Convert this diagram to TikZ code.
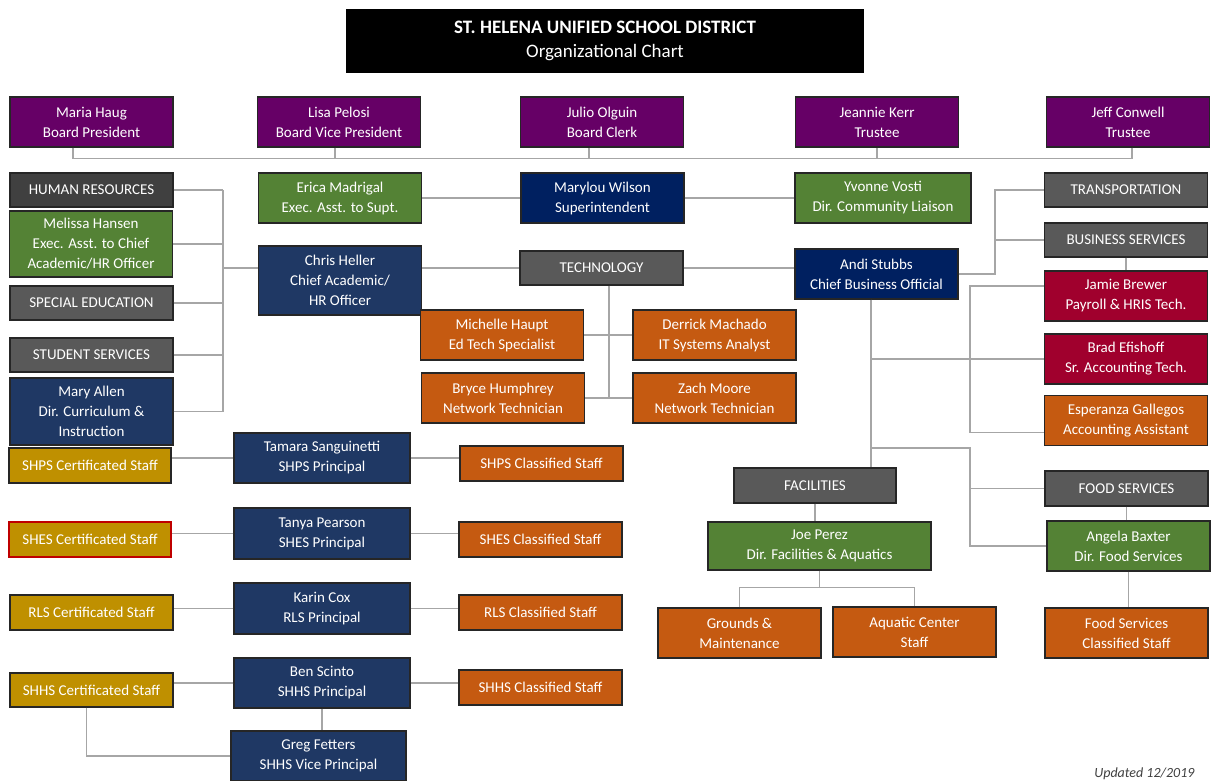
\documentclass[tikz,border=0pt]{standalone}
\usepackage{fontspec}
\setmainfont{Carlito}
\usetikzlibrary{calc}
\definecolor{BoxLine}   {RGB}{38,38,38}
\definecolor{ConnLine}  {RGB}{166,166,166}
\definecolor{BoardFill} {RGB}{102,0,102}
\definecolor{DeptFill}  {RGB}{89,89,89}
\definecolor{HrFill}    {RGB}{64,64,64}
\definecolor{GreenFill} {RGB}{84,130,53}
\definecolor{NavyFill}  {RGB}{0,32,96}
\definecolor{ExecFill}  {RGB}{31,56,100}
\definecolor{OrangeFill}{RGB}{197,90,17}
\definecolor{RedFill}   {RGB}{160,0,45}
\definecolor{GoldFill}  {RGB}{191,144,0}
\definecolor{NoteText}  {RGB}{64,64,64}
\newcommand{\boxfont}{\fontsize{15}{20}\selectfont}
\tikzset{
  nd_base/.style={
    rectangle, draw=BoxLine, line width=1.4pt, text=white,
    align=center, inner sep=0pt, font=\boxfont,
    minimum width=163, minimum height=50},
  nd_board/.style={nd_base, fill=BoardFill},
  nd_dept/.style={nd_base, fill=DeptFill, minimum height=34},
  nd_green/.style={nd_base, fill=GreenFill},
  nd_navy/.style={nd_base, fill=NavyFill},
  nd_exec/.style={nd_base, fill=ExecFill},
  nd_orange/.style={nd_base, fill=OrangeFill},
  nd_red/.style={nd_base, fill=RedFill},
  nd_gold/.style={nd_base, fill=GoldFill, minimum height=35},
  nd_staff/.style={nd_base, fill=OrangeFill, minimum height=35},
  conn/.style={draw=ConnLine, line width=1.2pt},
}

\begin{document}
\begin{tikzpicture}[x=1pt,y=-1pt]

\useasboundingbox[fill=white] (0,0) rectangle (1212,781);

\node[fill=black, text=white, align=center, minimum width=518, minimum height=64,
  font=\fontsize{19}{24}\selectfont] at (605,41) (TT)
  {\textbf{ST. HELENA UNIFIED SCHOOL DISTRICT}\\Organizational Chart};

%% Board
\node[nd_board] at (91.5,122) (MH){Maria Haug\\Board President};
\node[nd_board] at (339,122)  (LP){Lisa Pelosi\\Board Vice President};
\node[nd_board] at (602,122)  (JO){Julio Olguin\\Board Clerk};
\node[nd_board] at (877,122)  (JK){Jeannie Kerr\\Trustee};
\node[nd_board] at (1128,122) (JC){Jeff Conwell\\Trustee};
\coordinate (bbL) at (73,158.5);
\coordinate (bbR) at (1132,158.5);

%% Left column
\node[nd_dept, fill=HrFill] at (91.5,190) (HR){HUMAN RESOURCES};
\node[nd_green, minimum height=66] at (91,244) (MHa){Melissa Hansen\\Exec. Asst. to Chief\\Academic/HR Officer};
\node[nd_dept] at (91.5,303) (SE){SPECIAL EDUCATION};
\node[nd_dept] at (91.5,355) (SS){STUDENT SERVICES};
\node[nd_exec, minimum height=67] at (91.5,411.5) (MA){Mary Allen\\Dir. Curriculum \&\\Instruction};
\coordinate (lbus) at (223,0);

%% Centre
\node[nd_green] at (340,198)  (EM){Erica Madrigal\\Exec. Asst. to Supt.};
\node[nd_exec, minimum height=69] at (340,280.5) (CH){Chris Heller\\Chief Academic/\\HR Officer};
\node[nd_navy] at (602.5,198) (MW){Marylou Wilson\\Superintendent};
\node[nd_dept] at (601.5,268) (TE){TECHNOLOGY};
\node[nd_orange] at (502,335)   (MHp){Michelle Haupt\\Ed Tech Specialist};
\node[nd_orange] at (714.5,335) (DM){Derrick Machado\\IT Systems Analyst};
\node[nd_orange] at (503,398)   (BH){Bryce Humphrey\\Network Technician};
\node[nd_orange] at (714.5,398) (ZM){Zach Moore\\Network Technician};
\coordinate (tbus) at (609,0);

%% Right side
\node[nd_green, minimum width=176] at (883,198) (YV){Yvonne Vosti\\Dir. Community Liaison};
\node[nd_navy] at (876.5,274) (AS){Andi Stubbs\\Chief Business Official};
\node[nd_dept] at (1126,190) (TR){TRANSPORTATION};
\node[nd_dept] at (1126,240) (BS){BUSINESS SERVICES};
\node[nd_red]  at (1126,296) (JB){Jamie Brewer\\Payroll \& HRIS Tech.};
\node[nd_red]  at (1126,359) (BE){Brad Efishoff\\Sr. Accounting Tech.};
\node[nd_orange] at (1126,420.5) (EG){Esperanza Gallegos\\Accounting Assistant};
\coordinate (rbus) at (995,0);
\coordinate (fbus) at (970,0);
\coordinate (abus) at (871,0);

%% Facilities and food
\node[nd_dept, minimum width=162, minimum height=35] at (815,485.5) (FA){FACILITIES};
\node[nd_green, minimum width=223, minimum height=48] at (819.5,546) (JP){Joe Perez\\Dir. Facilities \& Aquatics};
\node[nd_orange] at (739.5,633) (GM){Grounds \&\\Maintenance};
\node[nd_orange] at (914.5,632) (AC){Aquatic Center\\Staff};
\node[nd_dept, minimum height=35] at (1126.5,488.5) (FS){FOOD SERVICES};
\node[nd_green] at (1128.5,546) (AB){Angela Baxter\\Dir. Food Services};
\node[nd_orange] at (1126.5,633) (FC){Food Services\\Classified Staff};

%% Schools
\node[nd_gold, minimum width=162] at (90,465.5) (SPc){SHPS Certificated Staff};
\node[nd_exec, minimum width=176] at (322,458)   (SPp){Tamara Sanguinetti\\SHPS Principal};
\node[nd_staff] at (541.5,463.5) (SPk){SHPS Classified Staff};
\node[nd_gold, minimum width=162, draw=red!75!black] at (90,539.5) (SEc){SHES Certificated Staff};
\node[nd_exec, minimum width=176, minimum height=51] at (322,533.5) (SEp){Tanya Pearson\\SHES Principal};
\node[nd_staff] at (540.5,539.5) (SEk){SHES Classified Staff};
\node[nd_gold] at (91.5,612.5) (RLc){RLS Certificated Staff};
\node[nd_exec, minimum width=176, minimum height=51] at (322,608.5) (RLp){Karin Cox\\RLS Principal};
\node[nd_staff] at (540.5,612.5) (RLk){RLS Classified Staff};
\node[nd_gold, minimum height=34] at (91.5,690) (SHc){SHHS Certificated Staff};
\node[nd_exec, minimum width=176] at (322,683) (SHp){Ben Scinto\\SHHS Principal};
\node[nd_staff] at (540.5,687.5) (SHk){SHHS Classified Staff};
\node[nd_exec, minimum width=175] at (318.5,756) (SHv){Greg Fetters\\SHHS Vice Principal};

\node[anchor=east, text=NoteText, font=\fontsize{14}{16}\selectfont\itshape] at (1198,774) (UP){Updated 12/2019};

%% connectors
\draw[conn] (bbL) -- (bbR);
\foreach \n/\x in {MH/73,LP/335,JO/589,JK/877,JC/1132}
  {\draw[conn] (\n.south -| \x,0) -- (bbL -| \x,0);}

\draw[conn] (lbus |- HR.east) -- (lbus |- MA.east);
\foreach \n in {HR,MHa,SE,SS,MA}
  {\draw[conn] (\n.east) -- (lbus |- \n.east);}
\draw[conn] (lbus |- TE.west) -- (CH.west |- TE.west);

\draw[conn] (EM.east) -- (MW.west);
\draw[conn] (MW.east) -- (YV.west);
\draw[conn] (CH.east |- TE.west) -- (TE.west);
\draw[conn] (TE.east) -- (TE.east -| AS.west);
\draw[conn] (tbus |- TE.south) -- (tbus |- BH.east);
\draw[conn] (MHp.east) -- (DM.west);
\draw[conn] (BH.east) -- (ZM.west);

\draw[conn] (AS.east) -| (rbus |- TR.west) -- (TR.west);
\draw[conn] (rbus |- BS.west) -- (BS.west);
\draw[conn] (BS.south) -- (JB.north);
\coordinate (egin) at ($(EG.west)+(0,12)$);
\draw[conn] ($(JB.west)+(0,-10)$) -| (fbus |- egin) -- (egin);
\draw[conn] (abus |- AS.south) -- (abus |- FA.north);
\draw[conn] (abus |- BE.west) -- (BE.west);
\draw[conn] (abus |- 0,448) -| (fbus |- AB.west) -- (AB.west);
\draw[conn] (fbus |- FS.west) -- (FS.west);

\coordinate (fac) at ($(JP.south)+(0,17)$);
\draw[conn] (FA.south) -- (FA.south |- JP.north);
\draw[conn] (JP.south) -- (fac);
\draw[conn] (GM.north) |- (fac) -| (AC.north);
\draw[conn] (FS.south) -- (FS.south |- AB.north);
\draw[conn] (AB.south) -- (AB.south |- FC.north);

\foreach \c/\p/\k in {SPc/SPp/SPk,SEc/SEp/SEk,RLc/RLp/RLk,SHc/SHp/SHk}
  {\draw[conn] (\p.west) -- (\p.west -| \c.east);
   \draw[conn] (\p.east) -- (\p.east -| \k.west);}
\draw[conn] (SHp.south) -- (SHp.south |- SHv.north);
\draw[conn] ([xshift=-5]SHc.south) |- (SHv.west);

\end{tikzpicture}
\end{document}
